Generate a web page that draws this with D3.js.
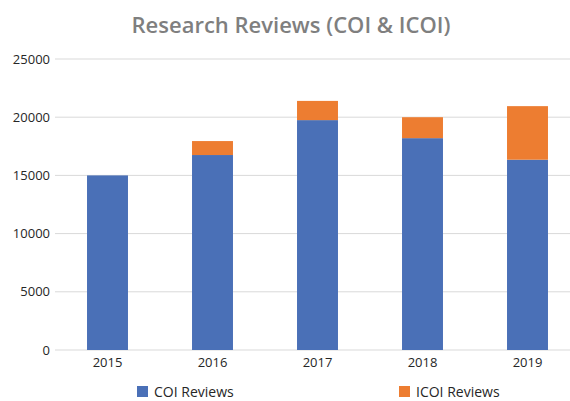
<!DOCTYPE html>
<html>
<head>
<meta charset="utf-8">
<script src="https://cdn.jsdelivr.net/npm/d3@7"></script>
<style>
  body { margin: 0; background: #fff; }
  text { font-family: "Open Sans", "DejaVu Sans", sans-serif; fill: #262626; }
</style>
</head>
<body>
<script>
const years = ["2015", "2016", "2017", "2018", "2019"]
const coiReviews = [15000, 16750, 19750, 18200, 16350]
const icoiReviews = [0, 1200, 1650, 1800, 4600]
const yTicks = [0, 5000, 10000, 15000, 20000, 25000]
const seriesNames = ["COI Reviews", "ICOI Reviews"]
const colors = ["#4A70B7", "#ED7D31"]

const width = 570
const height = 401

const svg = d3.select("body").append("svg").attr("width", width).attr("height", height)

const table = years.map((y, i) => ({ year: y, coi: coiReviews[i], icoi: icoiReviews[i] }))
const stacked = d3.stack().keys(["coi", "icoi"])(table)

const x = d3.scaleBand().domain(years).range([55, 580]).paddingInner(0.61).paddingOuter(0.305)
const y = d3.scaleLinear().domain([0, 25000]).range([350, 59])

// title
svg.append("text")
  .attr("x", 291).attr("y", 33)
  .attr("text-anchor", "middle")
  .style("font-size", "22px").style("font-weight", 600)
  .style("fill", "#7f7f7f")
  .text("Research Reviews (COI & ICOI)")

// grid + y labels
yTicks.forEach(t => {
  svg.append("line")
    .attr("x1", 55).attr("x2", 580)
    .attr("y1", y(t)).attr("y2", y(t))
    .style("stroke", "#d9d9d9").style("stroke-width", 1)
  svg.append("text")
    .attr("x", 50).attr("y", y(t)).attr("dy", "0.35em")
    .attr("text-anchor", "end")
    .style("font-size", "13px")
    .text(t)
})

// bars
svg.append("g").selectAll("g")
  .data(stacked).join("g")
  .style("fill", (d, i) => colors[i])
  .selectAll("rect")
  .data(d => d).join("rect")
  .attr("x", d => x(d.data.year))
  .attr("width", x.bandwidth())
  .attr("y", d => y(d[1]))
  .attr("height", d => y(d[0]) - y(d[1]))

// x labels
years.forEach(yr => {
  svg.append("text")
    .attr("x", x(yr) + x.bandwidth() / 2).attr("y", 367)
    .attr("text-anchor", "middle")
    .style("font-size", "13px")
    .text(yr)
})

// legend
const legendX = [137, 399]
seriesNames.forEach((name, i) => {
  svg.append("rect")
    .attr("x", legendX[i]).attr("y", 386)
    .attr("width", 11).attr("height", 11)
    .style("fill", colors[i])
  svg.append("text")
    .attr("x", legendX[i] + 17).attr("y", 397)
    .style("font-size", "14px")
    .text(name)
})
</script>
</body>
</html>
